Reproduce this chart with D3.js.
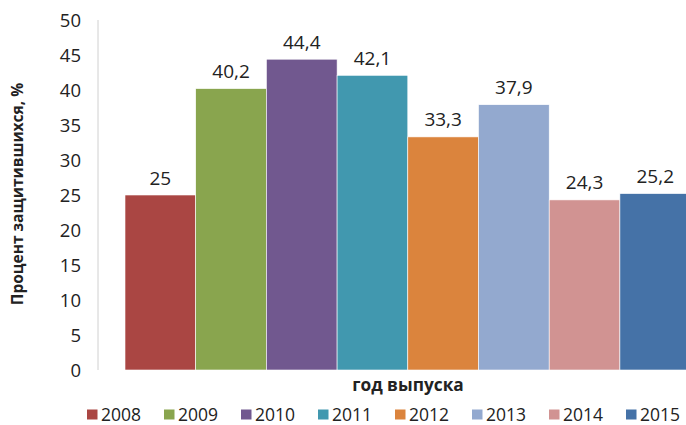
<!DOCTYPE html>
<html><head><meta charset="utf-8">
<script src="https://cdn.jsdelivr.net/npm/d3@7"></script>
<style>body{margin:0;background:#fff}svg{display:block}</style>
</head><body>
<svg id="c" width="686" height="425"></svg>
<script>
const years = ["2008","2009","2010","2011","2012","2013","2014","2015"];
const values = [25, 40.2, 44.4, 42.1, 33.3, 37.9, 24.3, 25.2];
const labels = ["25","40,2","44,4","42,1","33,3","37,9","24,3","25,2"];
const colors = ["#AA4643","#89A54E","#71588F","#4198AF","#DB843D","#93A9CF","#D19392","#4572A7"];
const yTicks = [0,5,10,15,20,25,30,35,40,45,50];

const svg = d3.select("#c");
const font = "'Open Sans', sans-serif";
const x0 = 98, yTop = 20, yBot = 370;
const y = d3.scaleLinear().domain([0,50]).range([yBot, yTop]);
const x = d3.scaleBand().domain(years).range([125, 125 + 70.7*8]).padding(0);

// axis line
svg.append("line").attr("x1", x0).attr("x2", x0).attr("y1", yTop).attr("y2", yBot)
  .attr("stroke", "#d0d0d0").attr("stroke-width", 1);

// y ticks
const yAxis = d3.axisLeft(y).tickValues(yTicks).tickSize(0).tickPadding(0);
const ga = svg.append("g").attr("transform", `translate(81,0)`).call(yAxis);
ga.select(".domain").remove();
ga.selectAll("text").attr("font-family", font).attr("font-size", 18.5).attr("fill", "#222")
  .attr("dy", "0.36em");

// bars
svg.selectAll("rect.bar").data(values).join("rect").attr("class","bar")
  .attr("x", (d,i) => x(years[i]))
  .attr("width", x.bandwidth())
  .attr("y", d => y(d))
  .attr("height", d => yBot - y(d))
  .attr("fill", (d,i) => colors[i])
  .attr("stroke", "#fff").attr("stroke-width", 0.6);

// value labels
svg.selectAll("text.val").data(values).join("text").attr("class","val")
  .attr("x", (d,i) => x(years[i]) + x.bandwidth()/2)
  .attr("y", d => y(d) - 10.5)
  .attr("text-anchor", "middle")
  .attr("font-family", font).attr("font-size", 19).attr("fill", "#222")
  .text((d,i) => labels[i]);

// axis titles
svg.append("text").attr("transform", "translate(23,194) rotate(-90)")
  .attr("text-anchor", "middle").attr("font-family", font).attr("font-weight", "bold")
  .attr("font-size", 15.5).attr("fill", "#222").text("Процент защитившихся, %");
svg.append("text").attr("x", 408).attr("y", 391).attr("text-anchor", "middle")
  .attr("font-family", font).attr("font-weight", "bold").attr("font-size", 17.3)
  .attr("fill", "#222").text("год выпуска");

// legend
const lg = svg.append("g");
const items = lg.selectAll("g").data(years).join("g")
  .attr("transform", (d,i) => `translate(${87 + i*77},414.5)`);
items.append("rect").attr("x", 0).attr("y", -5).attr("width", 10.5).attr("height", 10)
  .attr("fill", (d,i) => colors[i]);
items.append("text").attr("x", 14).attr("y", 0).attr("dy", "0.35em")
  .attr("font-family", font).attr("font-size", 17.5).attr("fill", "#222").text(d => d);
</script>
</body></html>
